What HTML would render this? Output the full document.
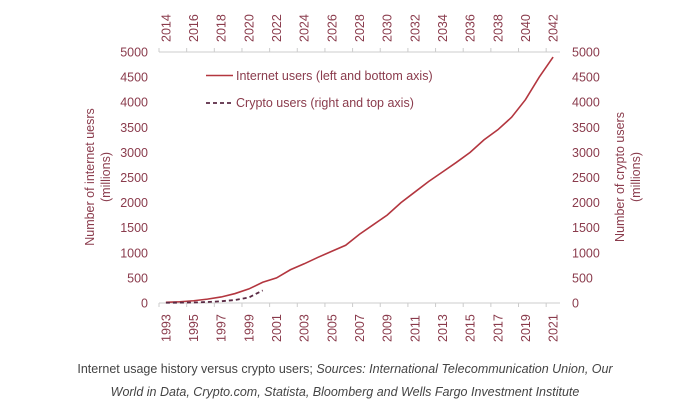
<!DOCTYPE html>
<html><head><meta charset="utf-8"><style>
body{margin:0;background:#fff;width:690px;height:409px;overflow:hidden;font-family:"Liberation Sans",sans-serif}
.cap{position:absolute;left:0;width:690px;text-align:center;font-size:12.5px;color:#444}
</style></head><body>
<svg id="c" width="690" height="409" style="position:absolute;left:0;top:0"></svg>
<div class="cap" style="top:362px">Internet usage history versus crypto users; <i>Sources: International Telecommunication Union, Our</i></div>
<div class="cap" style="top:385px"><i>World in Data, Crypto.com, Statista, Bloomberg and Wells Fargo Investment Institute</i></div>
<script>
const internetYears=[1993,1994,1995,1996,1997,1998,1999,2000,2001,2002,2003,2004,2005,2006,2007,2008,2009,2010,2011,2012,2013,2014,2015,2016,2017,2018,2019,2020,2021];
const internetUsers=[14,25,45,77,120,188,280,413,500,662,781,910,1030,1150,1370,1560,1750,2000,2210,2420,2610,2800,3000,3250,3450,3700,4050,4500,4900];
const cryptoYears=[2014,2015,2016,2017,2018,2019,2020,2021];
const cryptoUsers=[5,7,10,20,35,60,110,250];
const yTicks=[0,500,1000,1500,2000,2500,3000,3500,4000,4500,5000];
const NS="http://www.w3.org/2000/svg",svg=document.getElementById('c');
const L=159,R=560,T=52,B=303,N=29,bw=(R-L)/N;
const xb=y=>L+bw*(y-1993+0.5), xt=y=>L+bw*(y-2014+0.5);
const yv=v=>B-(B-T)*v/5000;
const col="#8a3b4c";
function mk(t,a,txt){const e=document.createElementNS(NS,t);for(const k in a)e.setAttribute(k,a[k]);if(txt!=null)e.textContent=txt;svg.appendChild(e);return e;}
let e;
e=mk('line',{x1:L,x2:R,y1:B,y2:B,stroke:'#ccc'});


e=mk('line',{x1:L,x2:R,y1:T,y2:T,stroke:'#ccc'});


for(let i=0;i<=N;i++){const x=L+bw*i;
 if(i%2==0){mk('line',{x1:x,x2:x,y1:B,y2:B+4,stroke:'#ccc'});mk('line',{x1:x,x2:x,y1:T,y2:T-4,stroke:'#ccc'});}}
internetYears.forEach(y=>{if((y-1993)%2)return;const x=xb(y);
 e=mk('text',{x:0,y:0,transform:`translate(${x+4.5},342) rotate(-90)`,'font-size':12.5,fill:col},y);
 
 
 const ty=y+21;
 e=mk('text',{x:0,y:0,transform:`translate(${xt(ty)+4.5},42) rotate(-90)`,'font-size':12.5,fill:col},ty);
 
 });
yTicks.forEach(v=>{
 e=mk('text',{x:148,y:yv(v)+4.5,'text-anchor':'end','font-size':12.5,fill:col},v);
 
 
 e=mk('text',{x:572,y:yv(v)+4.5,'font-size':12.5,fill:col},v);
 
 });
e=mk('text',{x:0,y:0,transform:'translate(94,177) rotate(-90)','text-anchor':'middle','font-size':12.5,fill:col},'Number of internet uesrs');


e=mk('text',{x:0,y:0,transform:'translate(110,177) rotate(-90)','text-anchor':'middle','font-size':12.5,fill:col},'(millions)');


e=mk('text',{x:0,y:0,transform:'translate(624,177) rotate(-90)','text-anchor':'middle','font-size':12.5,fill:col},'Number of crypto users');


e=mk('text',{x:0,y:0,transform:'translate(640,177) rotate(-90)','text-anchor':'middle','font-size':12.5,fill:col},'(millions)');


e=mk('polyline',{points:internetYears.map((y,i)=>xb(y)+','+yv(internetUsers[i])).join(' '),fill:'none',stroke:'#b3363f','stroke-width':1.6});


e=mk('polyline',{points:cryptoYears.map((y,i)=>xt(y)+','+yv(cryptoUsers[i])).join(' '),fill:'none',stroke:'#5a2a44','stroke-width':1.8,'stroke-dasharray':'4,3'});


e=mk('line',{x1:206,x2:233,y1:75.5,y2:75.5,stroke:'#b3363f','stroke-width':1.6});


e=mk('text',{x:236,y:80,'font-size':12.5,fill:col},'Internet users (left and bottom axis)');


e=mk('line',{x1:206,x2:233,y1:103,y2:103,stroke:'#5a2a44','stroke-width':1.8,'stroke-dasharray':'4,3'});


e=mk('text',{x:236,y:107,'font-size':12.5,fill:col},'Crypto users (right and top axis)');


</script>
</body></html>
